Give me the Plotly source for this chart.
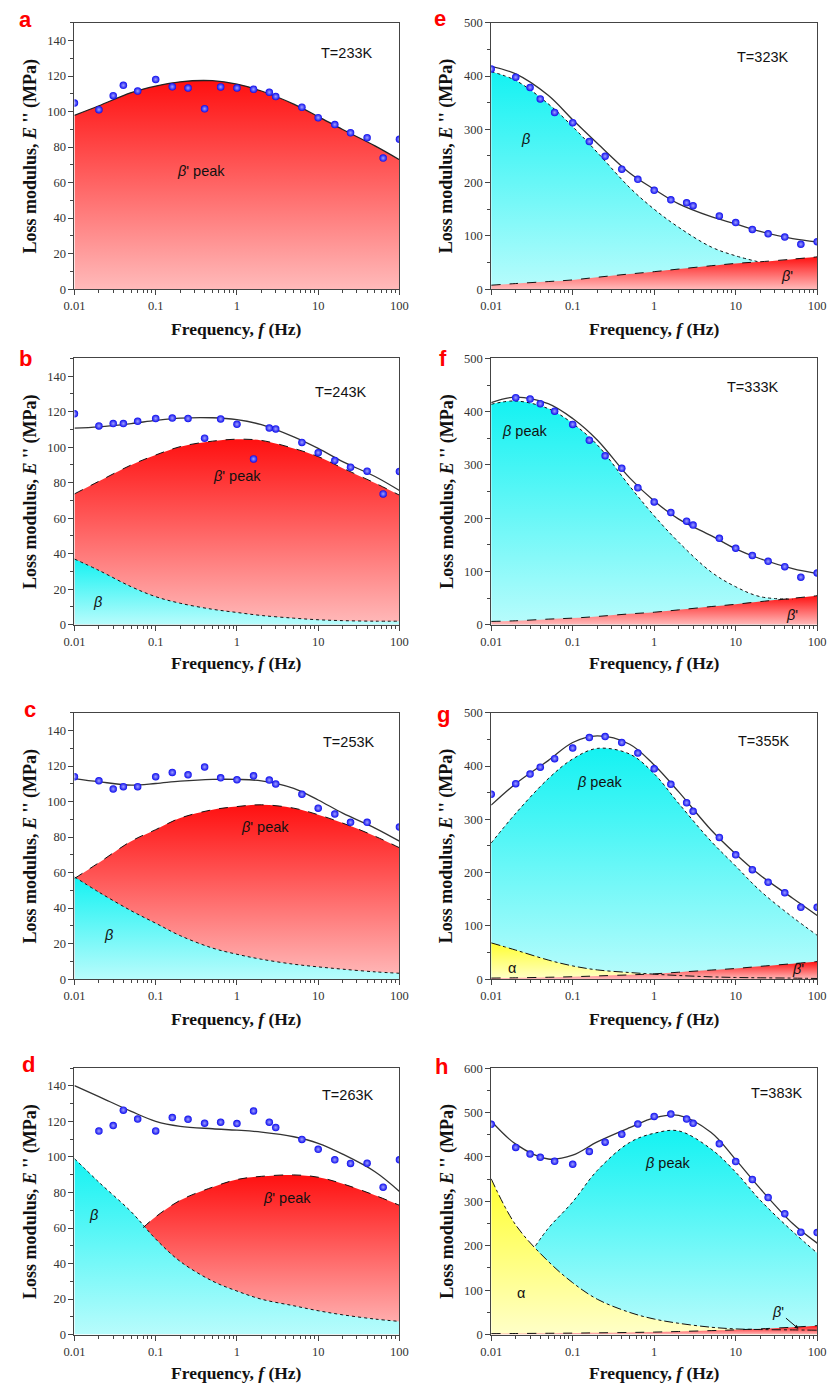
import plotly.graph_objects as go

# ---------------- data ----------------
F_PTS = [0.01, 0.02, 0.03, 0.04, 0.06, 0.1, 0.16, 0.25, 0.4, 0.63, 1, 1.6, 2.5, 3,
         6.3, 10, 16, 25, 40, 63, 100]
F_FIT = [0.01, 0.02, 0.05, 0.1, 0.2, 0.5, 1, 2, 5, 10, 20, 50, 100]

# a  T=233K
A_PTS = [104.8, 101.1, 109.0, 114.8, 111.6, 118.1, 114.0, 113.3, 101.6, 113.9, 113.3,
         112.6, 110.9, 108.5, 102.5, 96.6, 92.7, 88.1, 85.3, 73.8, 84.4]
A_FIT = [97.9, 103.3, 110.7, 114.4, 116.8, 117.4, 115.5, 111.6, 104.2, 97.2, 89.9, 80.7, 72.9]

# b  T=243K
B_PTS = [118.8, 112.0, 113.3, 113.3, 114.6, 116.2, 116.4, 116.2, 105.1, 115.9, 112.9,
         93.4, 110.8, 110.3, 102.7, 96.9, 92.5, 88.7, 86.5, 73.7, 86.3]
B_FIT = [110.7, 111.4, 113.3, 115.1, 116.4, 116.6, 115.5, 112.7, 105.8, 99.3, 91.9, 83.5, 75.6]
B_BETAP = [73.7, 80.8, 90.0, 95.6, 100.3, 103.4, 104.5, 103.8, 99.3, 94.7, 88.2, 79.8, 73.0]
B_BETA = [37.0, 30.6, 21.4, 15.8, 12.1, 8.7, 6.9, 5.2, 3.7, 2.8, 2.3, 2.0, 2.0]

# c  T=253K
C_PTS = [114.0, 111.7, 107.1, 108.4, 108.4, 114.0, 116.4, 115.1, 119.5, 113.4, 112.3,
         114.5, 112.1, 109.9, 104.1, 96.3, 93.0, 88.3, 88.3, None, 85.7]
C_FIT = [113.0, 111.2, 109.3, 110.2, 111.5, 112.5, 112.5, 111.7, 107.5, 100.9, 93.5, 85.1, 77.7]
C_BETAP = [56.7, 65.6, 77.7, 84.2, 90.7, 95.4, 97.2, 98.2, 96.3, 92.6, 87.9, 80.5, 74.0]
C_BETA = [57.6, 49.0, 38.5, 31.5, 24.5, 17.5, 14.0, 11.2, 8.4, 6.9, 5.6, 4.1, 3.3]

# d  T=263K
D_PTS = [None, 114.6, 117.7, 126.4, 121.4, 114.7, 122.2, 121.2, 119.0, 119.6, 118.8,
         125.9, 119.6, 116.6, 109.9, 104.3, 98.4, 96.4, 96.5, 83.0, 98.4]
D_FIT = [140.2, 134.0, 125.7, 120.1, 117.3, 115.9, 115.1, 114.0, 111.4, 107.7, 101.6, 91.7, 80.6]
F_D_BETAP = [0.07, 0.1, 0.2, 0.5, 1, 2, 5, 10, 20, 50, 100]
D_BETAP = [60.2, 66.3, 75.6, 83.0, 87.3, 89.1, 89.9, 88.6, 84.9, 78.4, 72.8]
D_BETA = [99.1, 85.8, 69.1, 53.8, 41.2, 30.1, 24.5, 19.9, 16.2, 13.4, 11.1, 8.7, 7.4]

# e  T=323K
E_PTS = [413.4, 397.9, 378.7, 357.1, 331.7, 312.5, 277.2, 249.4, 225.2, 206.1, 185.6,
         167.7, 162.1, 156.6, 137.4, 125.0, 112.0, 104.0, 97.8, 84.2, 89.1]
E_FIT = [418.3, 404.1, 363.9, 318.0, 274.0, 218.0, 187.5, 160.0, 136.0, 122.5, 108.3, 94.7, 88.5]
F_E_BETA = [0.01, 0.02, 0.05, 0.1, 0.2, 0.5, 1, 2, 5, 10, 20]
E_BETA = [408.4, 391.7, 348.0, 305.1, 256.8, 190.6, 150.0, 116.0, 79.2, 62.5, 50.5]
E_BETAP = [7.4, 10.5, 14.2, 17.3, 22.3, 28.5, 32.8, 37.7, 43.9, 48.3, 51.4, 56.3, 60.6]

# f  T=333K
F_PTS_F = [None, 426.3, 423.8, 415.1, 400.9, 376.1, 346.4, 317.2, 293.7, 257.1, 230.5,
           210.7, 194.5, 187.1, 162.3, 143.7, 130.1, 119.0, 109.0, 89.2, 97.3]
F_FIT_F = [417.0, 427.5, 415.1, 387.2, 347.0, 275.7, 232.3, 198.3, 167.3, 142.5, 123.9, 105.3, 96.0]
F_F_BETA = [0.01, 0.02, 0.05, 0.1, 0.2, 0.5, 1, 2, 5, 10, 20, 50]
F_BETA = [413.9, 420.1, 405.8, 377.9, 337.7, 260.2, 204.5, 154.9, 99.1, 71.3, 52.7, 48.0]
F_BETAP = [6.2, 7.4, 10.5, 12.4, 15.5, 20.4, 23.5, 27.9, 34.1, 38.4, 43.4, 49.6, 54.5]

# g  T=355K
G_PTS = [347.2, 367.0, 385.0, 398.0, 414.0, 433.8, 453.6, 455.4, 444.3, 424.5, 394.8,
         365.7, 331.1, 315.0, 266.1, 233.3, 205.4, 181.9, 162.1, 134.9, 134.9]
G_FIT = [326.7, 367.0, 410.3, 444.3, 456.7, 441.0, 402.0, 351.5, 280.0, 235.0, 195.0, 152.0, 119.4]
G_BETA = [255.6, 311.3, 376.2, 413.4, 433.2, 422.6, 385.5, 329.8, 258.7, 212.3, 165.8, 116.3, 82.3]
G_ALPHA = [68.1, 54.5, 35.9, 24.8, 17.3, 12.4, 9.3, 6.8, 4.3, 3.1, 2.5, 1.9, 1.2]
G_BETAP = [2.0, 2.5, 3.5, 4.5, 6.0, 8.0, 9.9, 13.0, 17.0, 20.0, 24.0, 29.0, 33.0]

# h  T=383K
H_PTS = [473.6, 421.6, 406.7, 399.3, 390.3, 383.6, 412.6, 433.5, 451.3, 474.3, 491.4,
         496.7, 485.5, 475.8, 429.7, 389.6, 349.4, 308.6, 272.1, 230.5, 229.7]
H_FIT = [481.0, 429.0, 395.5, 404.0, 434.0, 466.0, 488.0, 493.7, 455.0, 394.0, 328.6, 250.0, 205.9]
F_H_BETA = [0.035, 0.05, 0.1, 0.2, 0.5, 1, 2, 5, 10, 20, 50, 100]
H_BETA = [200.0, 239.0, 298.9, 369.5, 432.7, 453.5, 458.7, 417.8, 365.8, 302.6, 232.0, 183.6]
H_ALPHA = [350.9, 246.8, 165.0, 116.7, 79.6, 49.8, 34.9, 25.3, 16.4, 12.6, 11.2, 10.4, 9.7]
H_BETAP = [2.0, 2.3, 2.8, 3.2, 3.8, 4.6, 5.5, 6.8, 8.8, 10.5, 12.8, 16.5, 20.0]

TEMPS = ["T=233K", "T=243K", "T=253K", "T=263K", "T=323K", "T=333K", "T=355K", "T=383K"]
LETTERS = ["a", "b", "c", "d", "e", "f", "g", "h"]

# ---------------- styling ----------------
W, H = 834, 1393
RED = [[0, "#FFBABA"], [1, "#FF1010"]]
CYAN = [[0, "#B8FCFC"], [1, "#14F2F2"]]
YELLOW = [[0, "#FFFFC8"], [1, "#FFFF30"]]
SERIF = "Liberation Serif, Times New Roman, serif"
SANS = "Liberation Sans, Arial, sans-serif"
AXC = "#444444"

# panel geometry in pixels: (x0, x1) per column, (ytop, ybottom) per row
COLX = [(65, 398), (492, 826)]
ROWY = [(16, 285), (355, 624), (713, 982), (1072, 1341)]
POS = {0: (0, 0), 1: (0, 1), 2: (0, 2), 3: (0, 3), 4: (1, 0), 5: (1, 1), 6: (1, 2), 7: (1, 3)}
YMAX = [150, 150, 150, 150, 500, 500, 500, 600]

fig = go.Figure()


def ax(i):
    return ("x" if i == 0 else f"x{i+1}"), ("y" if i == 0 else f"y{i+1}")


def fill(i, x, y, cs):
    xa, ya = ax(i)
    fig.add_trace(go.Scatter(x=x, y=y, mode="lines", line=dict(width=0, shape="spline"),
                             fill="tozeroy", fillgradient=dict(type="vertical", colorscale=cs),
                             xaxis=xa, yaxis=ya, showlegend=False, hoverinfo="skip"))


def line(i, x, y, dash, color="#111111", width=1.0):
    xa, ya = ax(i)
    fig.add_trace(go.Scatter(x=x, y=y, mode="lines",
                             line=dict(width=width, dash=dash, color=color, shape="spline"),
                             xaxis=xa, yaxis=ya, showlegend=False, hoverinfo="skip"))


def pts(i, y):
    xa, ya = ax(i)
    fig.add_trace(go.Scatter(x=F_PTS, y=y, mode="markers",
                             marker=dict(size=7.5, color="#0C0CEE", line=dict(width=0),
                                         gradient=dict(type="radial", color="#A0A0FF")),
                             xaxis=xa, yaxis=ya, showlegend=False))


# a
fill(0, F_FIT, A_FIT, RED)
line(0, F_FIT, A_FIT, "solid", "#222222", 1.3)
pts(0, A_PTS)
# b
fill(1, F_FIT, B_BETAP, RED)
fill(1, F_FIT, B_BETA, CYAN)
line(1, F_FIT, B_BETAP, "dash")
line(1, F_FIT, B_BETA, "dot")
line(1, F_FIT, B_FIT, "solid", "#333333", 1.3)
pts(1, B_PTS)
# c
fill(2, F_FIT, C_BETAP, RED)
fill(2, F_FIT, C_BETA, CYAN)
line(2, F_FIT, C_BETAP, "dash")
line(2, F_FIT, C_BETA, "dot")
line(2, F_FIT, C_FIT, "solid", "#333333", 1.3)
pts(2, C_PTS)
# d
fill(3, F_D_BETAP, D_BETAP, RED)
fill(3, F_FIT, D_BETA, CYAN)
line(3, F_D_BETAP, D_BETAP, "dash")
line(3, F_FIT, D_BETA, "dot")
line(3, F_FIT, D_FIT, "solid", "#333333", 1.3)
pts(3, D_PTS)
# e
fill(4, F_E_BETA, E_BETA, CYAN)
fill(4, F_FIT, E_BETAP, RED)
line(4, F_E_BETA, E_BETA, "dot")
line(4, F_FIT, E_BETAP, "dash")
line(4, F_FIT, E_FIT, "solid", "#333333", 1.3)
pts(4, E_PTS)
# f
fill(5, F_F_BETA, F_BETA, CYAN)
fill(5, F_FIT, F_BETAP, RED)
line(5, F_F_BETA, F_BETA, "dot")
line(5, F_FIT, F_BETAP, "dash")
line(5, F_FIT, F_FIT_F, "solid", "#333333", 1.3)
pts(5, F_PTS_F)
# g
fill(6, F_FIT, G_BETA, CYAN)
fill(6, F_FIT, G_ALPHA, YELLOW)
fill(6, F_FIT, G_BETAP, RED)
line(6, F_FIT, G_BETA, "dot")
line(6, F_FIT, G_ALPHA, "dashdot")
line(6, F_FIT, G_BETAP, "dash")
line(6, F_FIT, G_FIT, "solid", "#333333", 1.3)
pts(6, G_PTS)
# h
fill(7, F_H_BETA, H_BETA, CYAN)
fill(7, F_FIT, H_ALPHA, YELLOW)
fill(7, F_FIT, H_BETAP, RED)
line(7, F_H_BETA, H_BETA, "dot")
line(7, F_FIT, H_ALPHA, "dashdot")
line(7, F_FIT, H_BETAP, "dash")
line(7, F_FIT, H_FIT, "solid", "#333333", 1.3)
pts(7, H_PTS)

layout = dict(width=W, height=H, margin=dict(l=0, r=0, t=0, b=0),
              paper_bgcolor="white", plot_bgcolor="white", showlegend=False)

tickfont = dict(family=SERIF, size=12.5, color="#333333")
for i in range(8):
    c, r = POS[i]
    x0, x1 = COLX[c]
    yt, yb = ROWY[r]
    xk = "xaxis" if i == 0 else f"xaxis{i+1}"
    yk = "yaxis" if i == 0 else f"yaxis{i+1}"
    xa, ya = ax(i)
    ym = YMAX[i]
    dt = 20 if ym == 150 else 100
    layout[xk] = dict(domain=[x0 / W, x1 / W], anchor=ya, type="log", range=[-2, 2],
                      dtick=1, showgrid=False, zeroline=False, showline=True,
                      linecolor=AXC, linewidth=1, mirror=True,
                      ticks="outside", ticklen=5, tickcolor=AXC, tickfont=tickfont,
                      minor=dict(ticks="outside", ticklen=3, tickcolor=AXC, showgrid=False))
    layout[yk] = dict(domain=[1 - yb / H, 1 - yt / H], anchor=xa, range=[0, ym],
                      dtick=dt, showgrid=False, zeroline=False, showline=True,
                      linecolor=AXC, linewidth=1, mirror=True,
                      ticks="outside", ticklen=5, tickcolor=AXC, tickfont=tickfont,
                      minor=dict(ticks="outside", ticklen=3, dtick=dt / 2,
                                 tickcolor=AXC, showgrid=False))
    # mirrored axes with inward ticks (top and right)
    layout[f"xaxis{i+9}"] = dict(overlaying=xa, side="top", anchor=ya, type="log",
                                 range=[-2, 2], dtick=1, showgrid=False, zeroline=False,
                                 showline=False, showticklabels=False, ticks="inside",
                                 ticklen=5, tickcolor=AXC,
                                 minor=dict(ticks="inside", ticklen=3, tickcolor=AXC,
                                            showgrid=False))
    layout[f"yaxis{i+9}"] = dict(overlaying=ya, side="right", anchor=xa, range=[0, ym],
                                 dtick=dt, showgrid=False, zeroline=False, showline=False,
                                 showticklabels=False, ticks="inside", ticklen=5,
                                 tickcolor=AXC,
                                 minor=dict(ticks="inside", ticklen=3, dtick=dt / 2,
                                            tickcolor=AXC, showgrid=False))
fig.update_layout(**layout)

ann = []
# temperature labels (x in log10 units)
T_POS = [(1.36, 133), (1.28, 131), (1.385, 133.5), (1.37, 135),
         (1.33, 435), (1.21, 446), (1.35, 448), (1.51, 544)]
for i in range(8):
    xa, ya = ax(i)
    ann.append(dict(x=T_POS[i][0], y=T_POS[i][1], xref=xa, yref=ya, text=TEMPS[i],
                    showarrow=False, xanchor="center", yanchor="middle",
                    font=dict(family=SANS, size=14.5, color="#111111")))

# component labels
LBL = [
    (0, -0.44, 66.7, "<i>β</i>' peak"),
    (1, 0.0, 84, "<i>β</i>' peak"), (1, -1.72, 13, "<i>β</i>"),
    (2, 0.34, 85.5, "<i>β</i>' peak"), (2, -1.58, 24.6, "<i>β</i>"),
    (3, 0.62, 77, "<i>β</i>' peak"), (3, -1.76, 67.6, "<i>β</i>"),
    (4, -1.58, 281, "<i>β</i>"), (4, 1.63, 24, "<i>β</i>'"),
    (5, -1.58, 364, "<i>β</i> peak"), (5, 1.69, 18.6, "<i>β</i>'"),
    (6, -0.67, 370, "<i>β</i> peak"), (6, -1.75, 20, "α"), (6, 1.77, 18.6, "<i>β</i>'"),
    (7, 0.17, 386, "<i>β</i> peak"), (7, -1.63, 94, "α"),
]
for i, x, y, t in LBL:
    xa, ya = ax(i)
    ann.append(dict(x=x, y=y, xref=xa, yref=ya, text=t, showarrow=False,
                    xanchor="center", yanchor="middle",
                    font=dict(family=SANS, size=14.5, color="#111111")))
# beta' arrow in h
ann.append(dict(x=1.77, y=13, xref="x8", yref="y8", text="<i>β</i>'", showarrow=True,
                arrowhead=2, arrowsize=0.8, arrowwidth=1, arrowcolor="#111111",
                ax=-20, ay=-17, font=dict(family=SANS, size=14.5, color="#111111")))

# panel letters
LET_POS = [(15, 13), (15, 355), (19, 710), (18, 1068), (440, 12), (443, 355), (443, 715), (441, 1070)]
for i in range(8):
    px, py = LET_POS[i]
    ann.append(dict(x=px / W, y=1 - py / H, xref="paper", yref="paper",
                    text=f"<b>{LETTERS[i]}</b>", showarrow=False,
                    xanchor="center", yanchor="middle",
                    font=dict(family=SANS, size=22, color="#FF0000")))

# axis titles
XT_Y = [325, 663, 1022, 1380]
for c in range(2):
    x0, x1 = COLX[c]
    for r in range(4):
        ann.append(dict(x=(x0 + x1) / 2 / W, y=1 - XT_Y[r] / H, xref="paper", yref="paper",
                        text="<b>Frequency, <i>f</i> (Hz)</b>", showarrow=False,
                        xanchor="center", yanchor="middle",
                        font=dict(family=SERIF, size=17.5, color="#111111")))
        yt, yb = ROWY[r]
        ann.append(dict(x=(20 if c == 0 else 447) / W, y=1 - (yt + yb) / 2 / H,
                        xref="paper", yref="paper", textangle=-90,
                        xanchor="center", yanchor="middle",
                        text="<b>Loss modulus, <i>E</i> '' (MPa)</b>", showarrow=False,
                        font=dict(family=SERIF, size=18, color="#111111")))

fig.update_layout(annotations=ann)
fig.write_html("out.html")
